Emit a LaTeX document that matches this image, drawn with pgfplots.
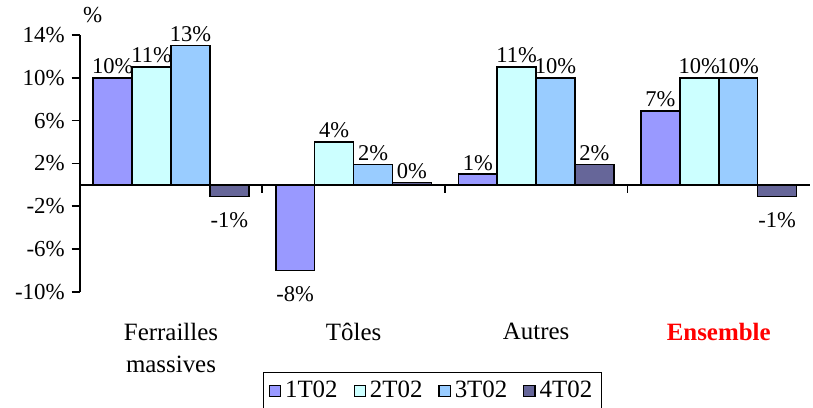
\documentclass[border=0pt]{standalone}
\usepackage{fontspec}
\setmainfont{Liberation Serif}
\usepackage{pgfplots}
\pgfplotsset{compat=1.18}
\usetikzlibrary{calc}
\definecolor{cA}{HTML}{9999FF}
\definecolor{cB}{HTML}{CCFFFF}
\definecolor{cC}{HTML}{99CCFF}
\definecolor{cD}{HTML}{666699}
\definecolor{cRed}{HTML}{FF0000}

\begin{document}
\begin{tikzpicture}
\begin{axis}[
  scale only axis, width=366.5pt, height=129pt,
  xmin=-0.5, xmax=3.5, ymin=-10, ymax=14,
  ybar=0pt, bar width=0.213,
  axis y line*=left, axis x line*=bottom,
  x axis line style={draw=none},
  y axis line style={line width=0.8pt},
  xtick={0,1,2,3},
  xticklabels={{Ferrailles\\[2pt]massives},{Tôles},{Autres},{\textcolor{cRed}{\textbf{Ensemble}}}},
  x tick label style={align=center, yshift=-8pt, font=\fontsize{12.5}{14}\selectfont},
  major x tick style={draw=none},
  ytick={-10,-6,-2,2,6,10,14},
  yticklabels={-10\%,-6\%,-2\%,2\%,6\%,10\%,14\%},
  tick align=outside, major tick length=4pt,
  y tick style={line width=0.8pt, black},
  y tick label style={font=\fontsize{11.5}{13}\selectfont},
  point meta=y,
  visualization depends on={y \as \ry},
  nodes near coords={\pgfmathprintnumber[fixed,precision=0,assume math mode=true]{\pgfplotspointmeta}\%},
  nodes near coords align={vertical},
  every node near coord/.append style={font=\fontsize{11.3}{13}\selectfont, inner xsep=0pt, inner ysep=1.5pt, black,
    yshift={\ry<0 ? -6pt : 0pt}},
  every axis plot/.append style={draw=black, line width=0.8pt},
  legend columns=4,
  legend style={at={(0.483,-0.31)}, anchor=north, draw=black, line width=0.6pt,
    font=\fontsize{12.5}{14}\selectfont, inner sep=2.5pt,
    /tikz/every even column/.append style={column sep=6pt}},
  legend image code/.code={\draw[#1, line width=0.6pt] (0pt,-2.8pt) rectangle (5.6pt,2.8pt);},
  clip=false,
]
\addplot[fill=cA] coordinates {(0,10) (1,-8) (2,1) (3,6.9)};
\addlegendentry{1T02}
\addplot[fill=cB] coordinates {(0,11) (1,4) (2,11) (3,10)};
\addlegendentry{2T02}
\addplot[fill=cC] coordinates {(0,13) (1,1.9) (2,10) (3,10)};
\addlegendentry{3T02}
\addplot[fill=cD] coordinates {(0,-1.1) (1,0.2) (2,1.9) (3,-1.1)};
\addlegendentry{4T02}
\draw[black, line width=0.8pt] (axis cs:-0.5,0) -- (axis cs:3.5,0);
\pgfplotsinvokeforeach{-0.5,0.5,1.5,2.5}{\draw[black, line width=0.8pt] (axis cs:#1,0) -- ++(0pt,-4pt);}
\node[font=\fontsize{11.5}{13}\selectfont] at ($(rel axis cs:0,1)+(6.5pt,10pt)$) {\%};
\coordinate (bl) at (rel axis cs:0,0);
\coordinate (tr) at (rel axis cs:1,1);
\end{axis}
\pgfresetboundingbox
\path[use as bounding box] ($(bl)+(-40pt,-58pt)$) rectangle ($(tr)+(1.5pt,17.5pt)$);
\end{tikzpicture}
\end{document}
